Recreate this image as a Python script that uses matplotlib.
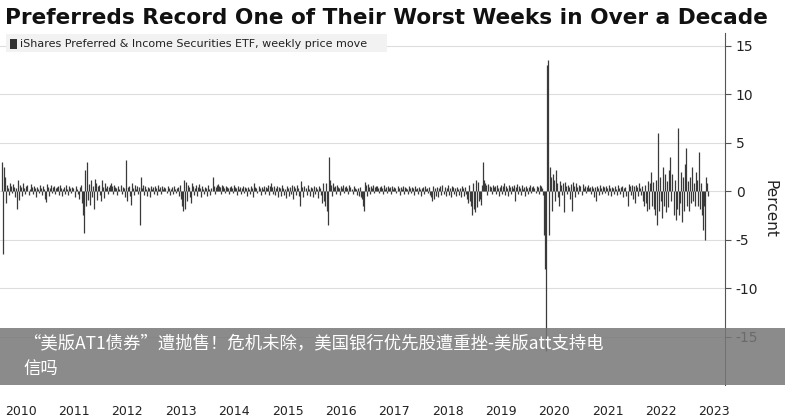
import matplotlib
matplotlib.use("Agg")
import matplotlib.pyplot as plt
import matplotlib.dates as mdates
import numpy as np
import pandas as pd

title = "Preferreds Record One of Their Worst Weeks in Over a Decade"
legend_label = "iShares Preferred & Income Securities ETF, weekly price move"
banner = "“美版AT1债券”遭抛售！危机未除，美国银行优先股遭重挫-美版att支持电\n信吗"
years = list(range(2010, 2024))
yticks = [-15, -10, -5, 0, 5, 10, 15]

w2009 = "3.0 -6.5 2.5"
w2010 = "1.5 -1.2 0.6 0.3 -0.4 0.8 0.5 -0.2 0.7 0.4 -0.6 0.3 -1.8 1.2 -0.9 0.6 0.4 -0.5 0.8 0.3 -0.3 0.5 0.6 -0.4 0.2 0.7 0.4 -0.3 0.5 0.3 -0.6 0.4 0.2 -0.2 0.6 0.3 -0.4 0.5 0.2 -0.8 -1.1 0.7 0.4 -0.5 0.3 0.6 -0.2 0.4 0.5 -0.3 0.3 0.4"
w2011 = "0.5 -0.4 0.6 0.3 -0.5 0.2 0.4 -0.3 0.6 0.2 -0.4 0.5 0.3 -0.2 0.4 0.3 -0.6 0.5 0.2 -0.3 -0.8 0.4 0.6 -1.2 -2.5 -4.3 2.2 -1.5 3.0 -0.9 0.7 -1.4 1.1 -0.6 0.5 -1.8 1.3 0.8 -0.9 0.5 0.6 -0.4 -1.0 1.2 0.4 -0.7 0.8 0.3 0.5 -0.3 0.4 0.6"
w2012 = "0.8 0.5 -0.3 0.6 0.4 0.3 -0.4 0.5 0.2 0.6 -0.3 0.4 0.3 -0.6 3.2 -1.0 0.4 0.5 -0.5 -1.4 0.8 0.3 -0.4 0.6 0.2 0.5 -0.3 0.4 -3.5 1.5 0.3 0.6 -0.4 0.5 0.2 -0.5 0.4 0.3 -0.6 0.5 0.2 0.4 -0.3 0.5 0.3 -0.4 0.6 0.2 0.4 -0.3 0.5 0.2"
w2013 = "0.4 0.3 -0.2 0.5 0.3 -0.4 0.2 0.4 -0.3 0.5 0.2 -0.2 0.3 0.4 -0.5 0.6 -0.8 -1.5 -2.0 1.2 -1.8 0.9 -1.0 0.6 0.4 -0.6 -1.2 0.8 0.5 -0.4 0.3 0.6 -0.5 0.4 0.7 0.3 -0.6 0.5 0.2 -0.3 0.4 0.3 -0.5 0.6 0.2 -0.4 0.3 1.5 0.5 -0.3 0.4 0.6"
w2014 = "0.7 0.5 0.4 -0.3 0.6 0.5 0.3 -0.2 0.5 0.4 0.3 -0.3 0.4 0.5 0.3 -0.2 0.6 0.4 0.3 -0.4 0.5 0.2 0.4 -0.3 0.3 0.5 -0.2 0.4 0.3 -0.5 0.4 0.2 -0.3 0.5 0.3 -0.6 0.8 0.4 0.3 -0.2 0.5 0.3 -0.4 0.4 0.2 0.5 -0.3 0.4 0.3 0.6 -0.4 0.5"
w2015 = "0.8 0.4 -0.3 0.5 -0.4 0.3 0.5 -0.6 0.4 0.3 -0.5 0.6 0.3 -0.4 0.2 -0.7 0.5 0.3 -0.5 0.4 -0.3 0.6 -0.8 0.5 0.3 -0.4 0.6 0.3 -0.5 -1.5 1.0 0.4 -0.6 0.5 0.3 -0.4 0.6 0.2 -0.5 0.4 0.3 -0.6 0.5 -0.3 0.4 0.2 -0.7 0.5 0.3 -0.4 -1.2 0.8"
w2016 = "-1.0 -1.5 0.8 -2.0 -3.5 3.5 1.2 0.6 -0.5 0.8 0.4 0.5 -0.3 0.6 0.4 0.3 -0.4 0.5 0.3 0.6 -0.2 0.4 0.5 0.3 -0.3 0.6 0.4 0.2 -0.3 0.5 0.3 0.2 -0.4 0.3 -0.5 0.4 -0.6 -0.8 -1.5 -2.0 0.9 0.6 -0.5 0.7 0.4 -0.3 0.5 0.3 0.6 -0.2 0.4 0.5"
w2017 = "0.5 0.3 -0.2 0.4 0.5 0.3 -0.3 0.6 0.2 0.4 -0.2 0.5 0.3 0.4 -0.3 0.5 0.2 0.4 0.3 -0.2 0.5 0.3 -0.4 0.4 0.2 0.5 -0.3 0.4 0.3 0.2 -0.3 0.5 0.3 -0.2 0.4 0.3 -0.4 0.5 0.2 0.3 -0.3 0.4 0.2 -0.5 0.3 0.4 -0.3 0.5 0.2 0.3 -0.2 0.4"
w2018 = "-0.4 -0.6 -1.0 0.5 -0.8 0.3 -0.5 0.4 -0.6 0.3 0.5 -0.4 0.6 -0.3 0.4 -0.5 0.3 0.6 -0.4 0.3 -0.6 0.5 0.4 -0.3 0.3 -0.5 0.4 0.2 -0.4 0.3 -0.6 0.5 0.3 -0.5 0.4 -0.3 -0.8 -1.2 0.6 -1.0 -1.5 -2.5 0.8 -1.8 -2.2 1.2 -1.6 0.9 -1.0 -0.8 -1.4 0.6"
w2019 = "3.0 1.2 0.8 0.6 -0.4 0.7 0.5 0.4 -0.3 0.6 0.4 0.5 -0.3 0.6 0.3 -0.5 0.4 0.6 -0.3 0.5 0.8 -0.4 0.5 0.3 -0.5 0.6 0.4 -0.3 0.5 0.3 0.6 -1.0 0.4 0.7 -0.3 0.5 0.3 -0.4 0.6 0.2 0.4 -0.5 0.5 0.3 -0.3 0.4 0.6 -0.2 0.4 0.5 0.3 -0.2"
w2020 = "0.5 0.4 -0.3 0.6 0.5 0.3 -0.4 -4.5 -8.0 -16.5 13.0 13.5 -4.5 2.5 1.5 -2.0 1.8 1.2 -1.0 2.2 0.8 -0.6 -1.5 1.0 0.6 -0.4 0.8 -2.2 0.9 0.5 -0.3 0.6 0.4 -0.8 0.7 -2.0 0.9 0.5 -0.6 0.8 0.4 -0.3 0.6 0.5 -0.4 0.7 0.3 0.5 -0.2 0.4 0.6 0.3"
w2021 = "0.4 -0.3 0.5 0.3 -0.6 0.4 -1.0 0.5 0.3 -0.4 0.6 0.3 -0.3 0.5 0.4 -0.2 0.5 0.3 -0.4 0.6 0.3 -0.5 0.4 0.3 -0.3 0.5 0.2 -0.4 0.6 0.3 -0.3 0.4 0.5 -0.6 0.3 0.4 -0.5 -1.5 0.7 0.5 -0.4 0.6 -0.8 0.5 -1.2 0.6 0.4 -0.5 0.8 0.3 -0.4 0.5"
w2022 = "-1.0 -1.5 0.6 -1.2 -2.0 1.0 -1.8 0.8 2.0 -1.5 0.9 -1.8 -2.5 1.2 -3.5 6.0 -2.0 1.5 -1.0 -2.8 2.5 -1.5 1.8 -2.2 1.0 -1.6 2.2 3.5 -1.0 1.8 -2.5 1.2 -3.0 -1.8 6.5 -2.5 -1.2 2.0 -3.2 1.5 -2.0 2.8 4.5 -1.5 1.0 -2.0 1.5 -1.2 2.5 -1.0 0.8 -1.5"
w2023 = "2.0 1.2 -1.5 4.0 -1.8 0.8 -2.5 -4.0 -1.5 -5.0 1.5 0.8 -0.5"

blocks = [w2009, w2010, w2011, w2012, w2013, w2014, w2015, w2016, w2017,
          w2018, w2019, w2020, w2021, w2022, w2023]
values = [float(v) for b in blocks for v in b.split()]
dates = pd.date_range("2009-12-11", periods=len(values), freq="7D")

plt.rcParams['font.family'] = ['DejaVu Sans']
fig = plt.figure(figsize=(7.85, 4.19), dpi=100)
ax = fig.add_axes([0.0, 0.081, 0.924, 0.84])
ax.vlines(mdates.date2num(dates), 0, values, color="#3a3a3a", linewidth=0.9, zorder=3)
ax.set_ylim(-20, 16.3)
x0 = mdates.date2num(pd.Timestamp("2010-01-01")); x1 = mdates.date2num(pd.Timestamp("2023-01-01"))
ppy = (x1 - x0) / (698 - 5)
ax.set_xlim(x0 - 5 * ppy, x0 + (725 - 5) * ppy)
ax.yaxis.tick_right()
ax.yaxis.set_label_position("right")
ax.set_yticks(yticks)
ax.set_yticklabels([str(t) for t in yticks], fontsize=10, color="#222")
ax.set_ylabel("Percent", rotation=-90, labelpad=14, fontsize=11, color="#222")
ax.set_xticks([mdates.date2num(pd.Timestamp(f"{y}-01-01")) for y in years])
ax.set_xticklabels([str(y) for y in years], fontsize=9, color="#222", ha="left")
ax.tick_params(axis="x", length=0, pad=14)
ax.tick_params(axis="y", length=4, color="#555")
ax.grid(axis="y", color="#dddddd", lw=0.8, zorder=0)
for s in ["top", "left", "bottom"]:
    ax.spines[s].set_visible(False)
ax.spines["right"].set_color("#555")

fig.text(0.006, 0.957, title, fontsize=15.6, fontweight="bold", color="#111", va="center")
fig.patches.append(plt.Rectangle((0.008, 0.876), 0.485, 0.042, transform=fig.transFigure,
                                  facecolor="#f2f2f2", edgecolor="none", zorder=1))
fig.patches.append(plt.Rectangle((0.013, 0.882), 0.009, 0.026, transform=fig.transFigure,
                                  facecolor="#333", edgecolor="none", zorder=2))
fig.text(0.025, 0.895, legend_label, fontsize=8, color="#222", va="center")

fig.patches.append(plt.Rectangle((0, 0.081), 1, 0.136, transform=fig.transFigure,
                                  facecolor="#777777", alpha=0.85, edgecolor="none", zorder=5))
fig.text(0.03, 0.15, banner, fontsize=12.5, color="white", va="center", linespacing=1.5,
         family=["Noto Sans CJK SC", "DejaVu Sans"], zorder=6)
fig.savefig("out.png", dpi=100)
